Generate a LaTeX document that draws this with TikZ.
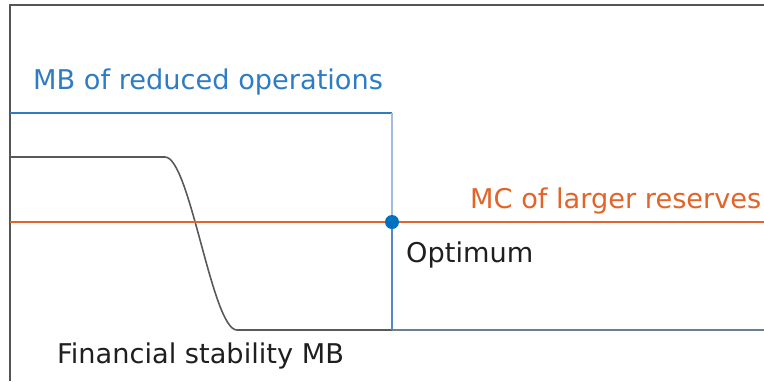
\documentclass[tikz,border=0pt]{standalone}
\usepackage{fontspec}
\setmainfont{DejaVu Sans}
\usetikzlibrary{positioning}
\definecolor{mbblue}{RGB}{46,124,196}
\definecolor{mbpale}{RGB}{160,188,222}
\definecolor{mbdark}{RGB}{90,136,198}
\definecolor{mcorange}{RGB}{226,100,40}
\definecolor{dotblue}{RGB}{0,112,192}
\definecolor{framegray}{RGB}{85,85,85}
\definecolor{basegray}{RGB}{110,124,148}

\begin{document}
\begin{tikzpicture}[x=1pt,y=-1pt,
    lbl/.style={inner sep=0pt,anchor=base west,font=\fontsize{27.2}{32}\selectfont},
    frame/.style={draw=framegray,line width=2pt},
    mbline/.style={draw=mbblue,line width=1.5pt},
    mcline/.style={draw=mcorange,line width=1.5pt},
    fsline/.style={draw=gray!70!black,line width=1.6pt}]
    \useasboundingbox (0,0) rectangle (764,381);
    \coordinate (o) at (10,5);
    \coordinate (ymin) at (10,381);
    \coordinate (xmax) at (764,5);
    \coordinate (mbl) at (10,113);
    \coordinate (mbr) at (392,113);
    \coordinate (opt) at (392,222);
    \coordinate (mbb) at (392,330);
    \coordinate (mbe) at (764,330);
    \coordinate (mcl) at (10,222);
    \coordinate (mcr) at (764,222);
    \coordinate (fs1) at (10,157);
    \coordinate (fs2) at (165,157);
    \coordinate (fs3) at (237,330);

    \draw[frame] (ymin) -- (o) -- (xmax);
    \draw[fsline] (fs1) -- (fs2) .. controls (190,157) and (212,330) .. (fs3) -- (mbb);
    \draw[mbline] (mbl) -- (mbr);
    \draw[mbpale,line width=2pt] (mbr) -- (opt);
    \draw[mbdark,line width=1.5pt] (opt) -- (mbb);
    \draw[basegray,line width=2pt] (mbb) -- (mbe);
    \draw[mcline] (mcl) -- (mcr);
    \fill[dotblue] (opt) circle (7);

    \node[lbl,text=mbblue] (mb) at (33,89) {MB of reduced operations};
    \node[lbl,text=mcorange] (mc) at (470,208) {MC of larger reserves};
    \node[lbl,text=black!88] (optlbl) at (406,262) {Optimum};
    \node[lbl,text=black!88] (fs) at (57,363) {Financial stability MB};
\end{tikzpicture}
\end{document}
